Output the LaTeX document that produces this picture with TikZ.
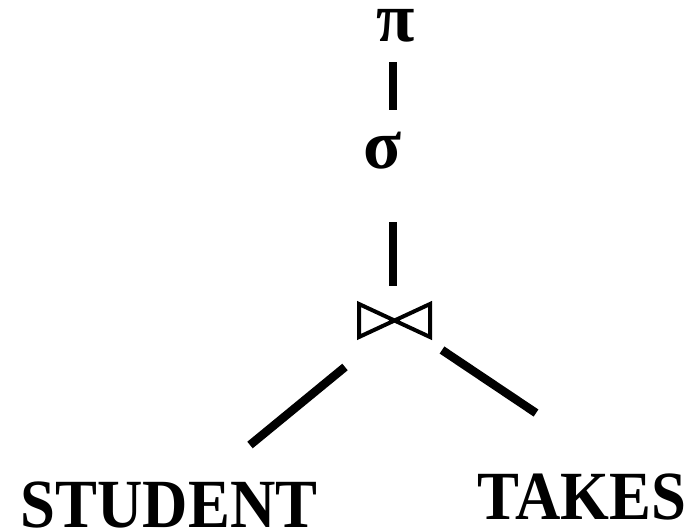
\documentclass[tikz,border=0pt]{standalone}
\usepackage{fontspec}
\setmainfont{Liberation Serif}
\begin{document}
\begin{tikzpicture}[x=1pt,y=-1pt,
  lbl/.style={font=\bfseries\fontsize{69}{69}\selectfont, inner sep=0pt, xscale=0.91},
  greek/.style={font=\bfseries\fontsize{70}{70}\selectfont, inner sep=0pt},
  edge/.style={line width=8.5pt},
  tri/.style={line width=4pt, line join=miter}]
\useasboundingbox (0,0) rectangle (698,531);
\node[greek] (pi) at (396,26) {π};
\node[greek] (sigma) at (383,151) {σ};
\coordinate (join) at (394.5,320.5);
\draw[tri] (359,304) -- (359,337) -- (join) -- cycle;
\draw[tri] (430,304) -- (430,337) -- (join) -- cycle;
\node[lbl, anchor=base] (student) at (169,527) {STUDENT};
\node[lbl, anchor=base] (takes) at (582,519) {TAKES};
\coordinate (a1) at (393,62);
\coordinate (a2) at (393,110);
\coordinate (b1) at (393,222);
\coordinate (b2) at (393,286);
\coordinate (c1) at (345,367);
\coordinate (c2) at (250,445);
\coordinate (d1) at (442,350);
\coordinate (d2) at (536,413);
\draw[edge] (a1) -- (a2);
\draw[edge] (b1) -- (b2);
\draw[edge] (c1) -- (c2);
\draw[edge] (d1) -- (d2);
\end{tikzpicture}
\end{document}
